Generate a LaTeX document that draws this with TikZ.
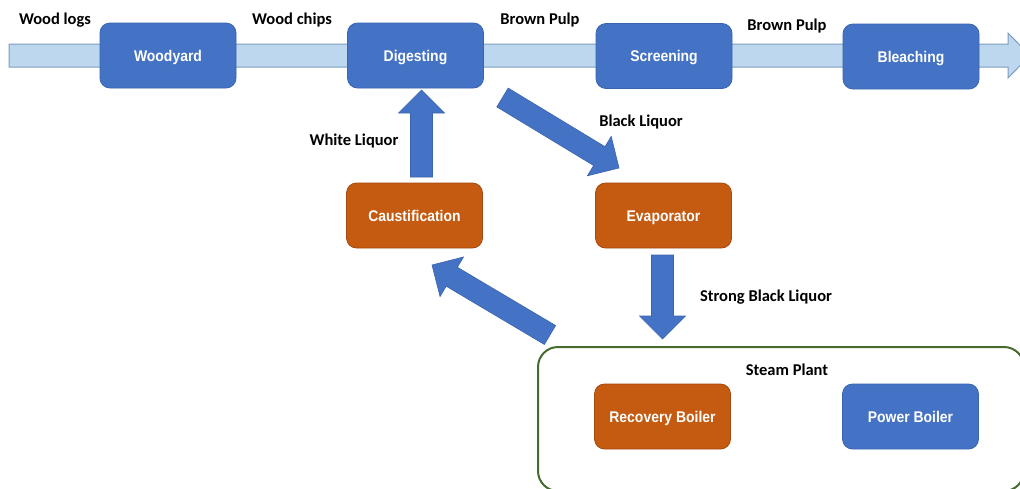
\documentclass[tikz,border=0pt]{standalone}
\usepackage{fontspec}
\setmainfont{Carlito}
\newfontfamily\nodefont{Liberation Sans}[FakeStretch=0.9]
\usetikzlibrary{calc}
\definecolor{boxblue}{HTML}{4472C4}
\definecolor{boxblueline}{HTML}{3A64AE}
\definecolor{boxorange}{HTML}{C55A11}
\definecolor{boxorangeline}{HTML}{A34A10}
\definecolor{flowfill}{HTML}{BDD7EE}
\definecolor{flowline}{HTML}{7F9CBF}
\definecolor{plantgreen}{HTML}{456B2E}
\tikzset{
  proc/.style={rounded corners=10pt, minimum width=136pt, minimum height=65pt,
    font=\nodefont\bfseries\fontsize{15.5}{18}\selectfont, text=white, inner sep=0pt, line width=0.8pt,
    text height=12pt, text depth=0.9pt},
  bluebox/.style={proc, fill=boxblue, draw=boxblueline},
  orangebox/.style={proc, fill=boxorange, draw=boxorangeline},
  plant/.style={draw=plantgreen, line width=2pt, rounded corners=20pt, minimum width=486pt, minimum height=144pt, inner sep=0pt},
  lbl/.style={font=\bfseries\fontsize{16.5}{19}\selectfont, inner sep=0pt, anchor=base},
  fat/.style={fill=boxblue, draw=boxblueline, line width=0.6pt, line join=miter},
  flow/.style={fill=flowfill, draw=flowline, line width=1pt, line join=miter},
}
\newcommand\fatarrow[2]{%
  \path coordinate (hb) at ($(#2)!23pt!(#1)$);
  \draw[fat] ($(#1)!11pt!90:(#2)$) -- ($(hb)!11pt!90:(#2)$) -- ($(hb)!23pt!90:(#2)$)
    -- (#2) -- ($(hb)!23pt!-90:(#2)$) -- ($(hb)!11pt!-90:(#2)$) -- ($(#1)!11pt!-90:(#2)$) -- cycle;
}
\begin{document}
\begin{tikzpicture}[x=1pt,y=-1pt]
\useasboundingbox (0,0) rectangle (1020,488);
\clip (0,0) rectangle (1020,488);
% main pulp flow
\draw[flow] (9,44) -- (1008,44) -- (1008,33) -- (1030,55.5) -- (1008,78) -- (1008,67) -- (9,67) -- cycle;
% process boxes
\node[bluebox] (woodyard) at (168,55.5) {Woodyard};
\node[bluebox] (digesting) at (415.5,55.5) {Digesting};
\node[bluebox] (screening) at (664,56) {Screening};
\node[bluebox] (bleaching) at (911,56.5) {Bleaching};
\node[orangebox] (caus) at (414.5,215.5) {Caustification};
\node[orangebox] (evap) at (663.5,215.5) {Evaporator};
\node[plant] (plantbox) at (781,419) {};
\node[orangebox] (recovery) at (662.5,416.5) {Recovery Boiler};
\node[bluebox] (power) at (910.5,416.5) {Power Boiler};
% labels
\node[lbl] (lwoodlogs) at (55,24) {Wood logs};
\node[lbl] (lwoodchips) at (292,24) {Wood chips};
\node[lbl] (lbrown1) at (540,24) {Brown Pulp};
\node[lbl] (lbrown2) at (787,30) {Brown Pulp};
\node[lbl] (lblack) at (641,126.5) {Black Liquor};
\node[lbl] (lwhite) at (354,145) {White Liquor};
\node[lbl] (lstrong) at (766,301) {Strong Black Liquor};
\node[lbl] (lsteam) at (787,375) {Steam Plant};
% block arrows
\coordinate (wl0) at (421.5,177); \coordinate (wl1) at (421.5,90);
\coordinate (bl0) at (502.5,97.5); \coordinate (bl1) at (619,168);
\coordinate (sb0) at (662.5,255); \coordinate (sb1) at (662.5,339);
\coordinate (rt0) at (550,335); \coordinate (rt1) at (432,265);
\fatarrow{wl0}{wl1}
\fatarrow{bl0}{bl1}
\fatarrow{sb0}{sb1}
\fatarrow{rt0}{rt1}
\end{tikzpicture}
\end{document}
